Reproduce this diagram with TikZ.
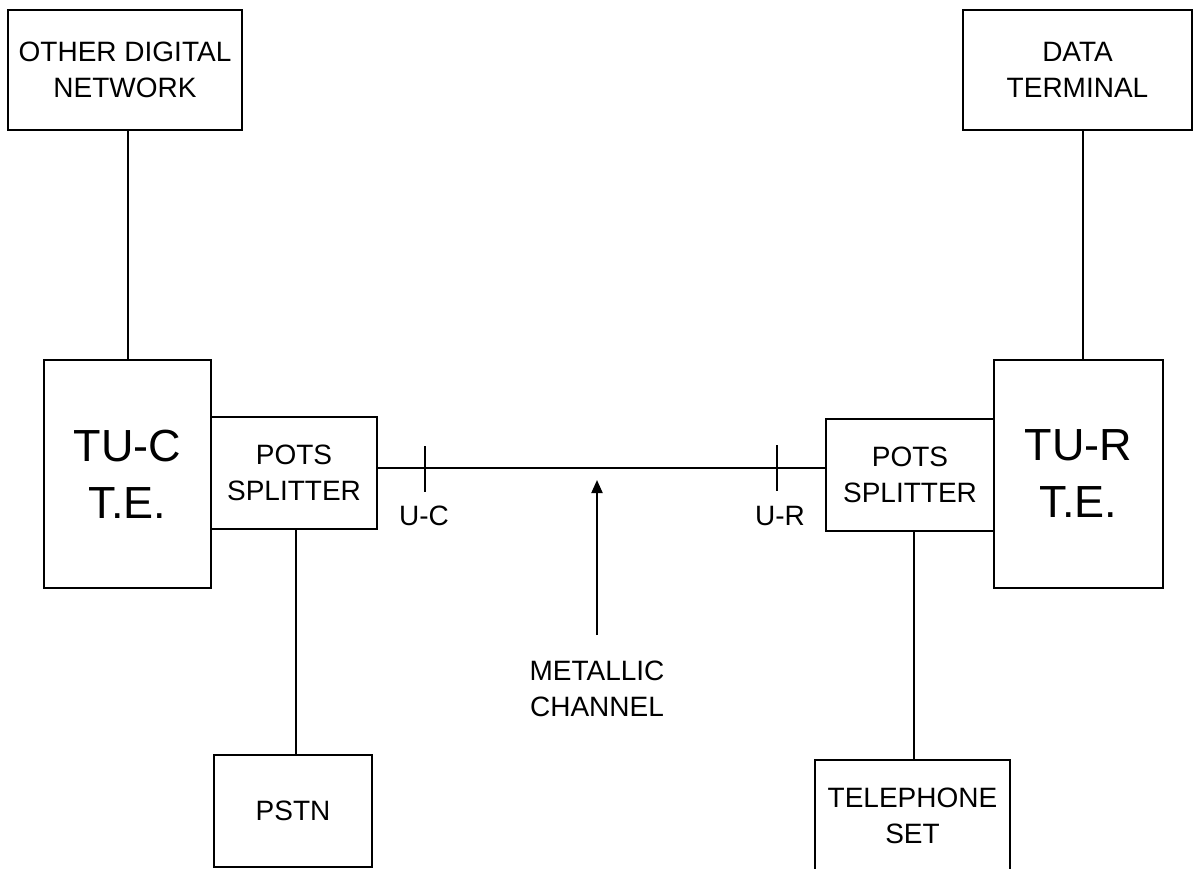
\documentclass[tikz,border=0pt]{standalone}
\usepackage{fontspec}
\setmainfont{Liberation Sans}
\usetikzlibrary{arrows.meta}
\begin{document}
\begin{tikzpicture}[x=1pt,y=-1pt,line width=2pt,
  box/.style={draw,line width=2pt,inner sep=0pt,align=center,font=\fontsize{28}{36}\selectfont},
  bigbox/.style={box,font=\fontsize{45}{57}\selectfont},
  lbl/.style={inner sep=0pt,align=center,font=\fontsize{28}{36}\selectfont},
  tick/.style={line width=2pt},
  wire/.style={line width=2pt}]
\useasboundingbox (0,0) rectangle (1193,869);
% boxes
\node[box,minimum width=234pt,minimum height=120pt] (odn) at (125,70) {OTHER DIGITAL\\NETWORK};
\node[box,minimum width=229pt,minimum height=120pt] (dt) at (1077.5,70) {DATA\\TERMINAL};
\node[bigbox,minimum width=167pt,minimum height=228pt] (tuc) at (127.5,474) {TU-C\\T.E.};
\node[box,minimum width=166pt,minimum height=112pt] (psl) at (294,473) {POTS\\SPLITTER};
\node[bigbox,minimum width=169pt,minimum height=228pt] (tur) at (1078.5,474) {TU-R\\T.E.};
\node[box,minimum width=168pt,minimum height=112pt] (psr) at (910,475) {POTS\\SPLITTER};
\node[box,minimum width=158pt,minimum height=112pt] (pstn) at (293,811) {PSTN};
\node[box,minimum width=195pt,minimum height=112pt] (tel) at (912.5,816) {TELEPHONE\\SET};
% vertical links
\draw[wire] ([xshift=0.5pt]tuc.north) -- ([xshift=0.5pt]tuc.north |- odn.south);
\draw[wire] ([xshift=4.5pt]tur.north) -- ([xshift=4.5pt]tur.north |- dt.south);
\draw[wire] ([xshift=2pt]psl.south) -- ([xshift=2pt]psl.south |- pstn.north);
\draw[wire] ([xshift=4pt]psr.south) -- ([xshift=4pt]psr.south |- tel.north);
% channel
\coordinate (ch) at (600,468);
\draw[wire] (psl.east |- ch) -- (psr.west |- ch);
\coordinate (uc) at (425,468);
\coordinate (ur) at (777,468);
\draw[tick] ([yshift=22pt]uc) -- ([yshift=-24pt]uc);
\draw[tick] ([yshift=23pt]ur) -- ([yshift=-23pt]ur);
\node[lbl] (ucl) at (424,516) {U-C};
\node[lbl] (url) at (780,516) {U-R};
% metallic channel
\node[lbl] (mc) at (597,689) {METALLIC\\CHANNEL};
\coordinate (tipc) at (597,480);
\draw[wire,-{Triangle[width=11pt,length=13pt]}] ([yshift=25pt]mc.north) -- (mc.north |- tipc);
\end{tikzpicture}
\end{document}
